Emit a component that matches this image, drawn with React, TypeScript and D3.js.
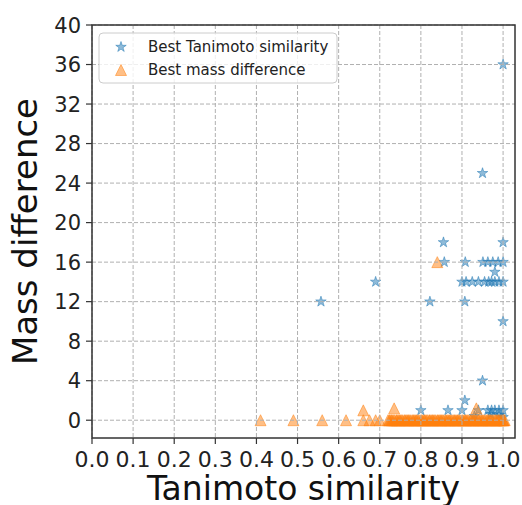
import React from 'react'
import * as d3 from 'd3'

// Best Tanimoto similarity (blue stars): [similarity, mass difference]
const tanimotoX = [
  1.0, 0.95, 0.855, 1.0, 0.857, 0.908, 0.951, 0.963, 0.975, 0.988, 1.0, 0.98,
  0.69, 0.9, 0.91, 0.925, 0.94, 0.955, 0.965, 0.972, 0.98, 0.99, 1.0,
  0.557, 0.822, 0.907, 1.0, 0.95, 0.907, 0.8, 0.866, 0.9, 0.94, 0.963,
  0.972, 0.98, 0.99, 1.0, 0.99, 1.0, 0.97, 0.93
]
const tanimotoY = [
  36, 25, 18, 18, 16, 16, 16, 16, 16, 16, 16, 15,
  14, 14, 14, 14, 14, 14, 14, 14, 14, 14, 14,
  12, 12, 12, 10, 4, 2, 1, 1, 1, 1, 1,
  1, 1, 1, 1, 0.5, 0.3, 0.6, 0.4
]

// Best mass difference (orange triangles), scattered ones
const massX = [
  0.41, 0.49, 0.56, 0.618, 0.66, 0.66, 0.675, 0.69, 0.70, 0.735, 0.935, 0.84
]
const massY = [
  0, 0, 0, 0, 1, 0, 0, 0, 0, 1.2, 1.2, 16
]
// Best mass difference: the dense run of zero differences at high similarity
const massZeroX = [
  0.72, 0.723, 0.725, 0.728, 0.73, 0.733, 0.736, 0.74, 0.742, 0.745, 0.748, 0.75,
  0.753, 0.756, 0.76, 0.762, 0.765, 0.768, 0.77, 0.773, 0.776, 0.78, 0.782, 0.785,
  0.788, 0.79, 0.793, 0.796, 0.8, 0.802, 0.805, 0.808, 0.81, 0.813, 0.816, 0.82,
  0.822, 0.825, 0.828, 0.83, 0.833, 0.836, 0.84, 0.842, 0.845, 0.848, 0.85, 0.853,
  0.856, 0.86, 0.862, 0.865, 0.868, 0.87, 0.873, 0.876, 0.88, 0.882, 0.885, 0.888,
  0.89, 0.893, 0.896, 0.9, 0.902, 0.905, 0.908, 0.91, 0.913, 0.916, 0.92, 0.922,
  0.925, 0.928, 0.93, 0.933, 0.936, 0.94, 0.942, 0.945, 0.948, 0.95, 0.953, 0.956,
  0.96, 0.962, 0.965, 0.968, 0.97, 0.973, 0.976, 0.98, 0.982, 0.985, 0.988, 0.99,
  0.993, 0.996, 1.0, 1.0, 1.002, 1.004
]

const xTicks = [0, 0.1, 0.2, 0.3, 0.4, 0.5, 0.6, 0.7, 0.8, 0.9, 1.0]
const yTicks = [0, 4, 8, 12, 16, 20, 24, 28, 32, 36, 40]
const legendLabels = ['Best Tanimoto similarity', 'Best mass difference']

const WIDTH = 522
const HEIGHT = 505
const plot = { left: 92, right: 515, top: 25, bottom: 438 }
const FONT = 'DejaVu Sans, sans-serif'
const BLUE = '#1f77b4'
const ORANGE = '#ff7f0e'
const MS = 11

const starPath = (() => {
  const r = MS / 2
  const ri = r * 0.381966
  const pts: string[] = []
  for (let i = 0; i < 10; i++) {
    const rad = i % 2 === 0 ? r : ri
    const a = (Math.PI / 5) * i
    pts.push(`${(rad * Math.sin(a)).toFixed(2)},${(-rad * Math.cos(a)).toFixed(2)}`)
  }
  return 'M' + pts.join('L') + 'Z'
})()
const h = MS / 2
const triPath = `M0,${-h}L${h},${h}L${-h},${h}Z`

const App = () => {
  const xScale = d3.scaleLinear().domain([0, 1.029]).range([plot.left, plot.right])
  const yScale = d3.scaleLinear().domain([-1.8, 40]).range([plot.bottom, plot.top])

  const marker = (path: string, color: string, x: number, y: number, key: string | number) => (
    <path key={key} d={path} transform={`translate(${x},${y})`}
      fill={color} fillOpacity={0.5} stroke={color} strokeOpacity={0.5} strokeWidth={1} />
  )

  return (
    <svg width={WIDTH} height={HEIGHT} style={{ position: 'absolute', left: 0, top: 0 }} fontFamily={FONT}>
      <rect x={0} y={0} width={WIDTH} height={HEIGHT} fill="#fff" />

      {/* points */}
      <g>
        {tanimotoX.map((d, i) => marker(starPath, BLUE, xScale(d), yScale(tanimotoY[i]), 's' + i))}
        {massX.map((d, i) => marker(triPath, ORANGE, xScale(d), yScale(massY[i]), 't' + i))}
        {massZeroX.map((d, i) => marker(triPath, ORANGE, xScale(d), yScale(0), 'z' + i))}
      </g>

      {/* grid */}
      <g stroke="#b0b0b0" strokeWidth={1} strokeDasharray="4,2">
        {xTicks.map(t => (
          <line key={'gx' + t} x1={xScale(t)} x2={xScale(t)} y1={plot.top} y2={plot.bottom} />
        ))}
        {yTicks.map(t => (
          <line key={'gy' + t} x1={plot.left} x2={plot.right} y1={yScale(t)} y2={yScale(t)} />
        ))}
      </g>

      {/* axes */}
      <rect x={plot.left} y={plot.top} width={plot.right - plot.left} height={plot.bottom - plot.top}
        fill="none" stroke="#333" strokeWidth={1.5} />
      <g>
        {xTicks.map(t => (
          <g key={'tx' + t}>
            <line x1={xScale(t)} x2={xScale(t)} y1={plot.bottom} y2={plot.bottom + 6} stroke="#333" strokeWidth={1.2} />
            <text x={xScale(t)} y={467} fontSize={22} textAnchor="middle" fill="#222">{t.toFixed(1)}</text>
          </g>
        ))}
        {yTicks.map(t => (
          <g key={'ty' + t}>
            <line x1={plot.left - 6} x2={plot.left} y1={yScale(t)} y2={yScale(t)} stroke="#333" strokeWidth={1.2} />
            <text x={plot.left - 11} y={yScale(t)} dy="0.36em" fontSize={21} textAnchor="end" fill="#222">{t}</text>
          </g>
        ))}
      </g>
      <text x={(plot.left + plot.right) / 2} y={500} fontSize={33} textAnchor="middle" fill="#111">Tanimoto similarity</text>
      <text transform={`translate(37,${(plot.top + plot.bottom) / 2}) rotate(-90)`} fontSize={34} textAnchor="middle" fill="#111">Mass difference</text>

      {/* legend */}
      <g>
        <rect x={99} y={33} width={238} height={50} rx={4} fill="#fff" fillOpacity={0.8} stroke="#ccc" strokeWidth={1} />
        {marker(starPath, BLUE, 121, 47, 'ls')}
        {marker(triPath, ORANGE, 121, 70, 'lt')}
        <text x={148} y={52} fontSize={15} fill="#222">{legendLabels[0]}</text>
        <text x={148} y={75} fontSize={15} fill="#222">{legendLabels[1]}</text>
      </g>
    </svg>
  )
}

export default App
